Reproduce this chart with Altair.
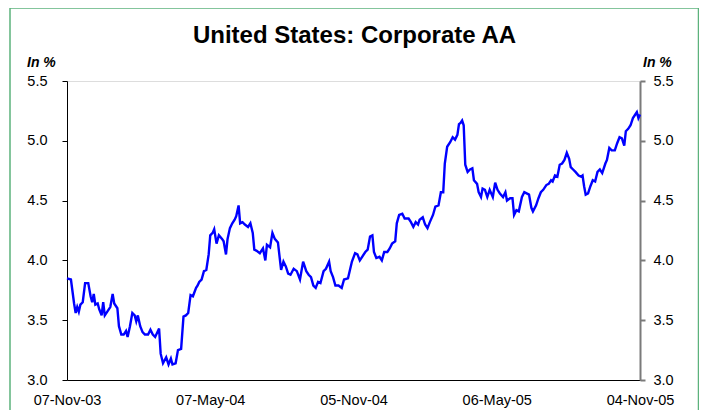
import altair as alt
import pandas as pd

TITLE = "United States: Corporate AA"
UNIT = "In %"

dates = [
    "2003-11-07", "2003-11-12", "2003-11-16", "2003-11-18", "2003-11-20", "2003-11-22",
    "2003-11-24", "2003-11-27", "2003-11-30", "2003-12-04", "2003-12-07", "2003-12-09",
    "2003-12-11", "2003-12-13", "2003-12-16", "2003-12-18", "2003-12-21", "2003-12-23",
    "2003-12-25", "2003-12-28", "2004-01-01", "2004-01-04", "2004-01-06", "2004-01-10",
    "2004-01-12", "2004-01-15", "2004-01-18", "2004-01-21", "2004-01-23", "2004-01-26",
    "2004-01-29", "2004-02-01", "2004-02-03", "2004-02-05", "2004-02-08", "2004-02-11",
    "2004-02-14", "2004-02-18", "2004-02-21", "2004-02-24", "2004-02-27", "2004-03-03",
    "2004-03-05", "2004-03-08", "2004-03-12", "2004-03-15", "2004-03-18", "2004-03-20",
    "2004-03-24", "2004-03-27", "2004-03-31", "2004-04-03", "2004-04-06", "2004-04-09",
    "2004-04-12", "2004-04-15", "2004-04-19", "2004-04-21", "2004-04-23", "2004-04-26",
    "2004-04-29", "2004-05-02", "2004-05-05", "2004-05-07", "2004-05-10", "2004-05-12",
    "2004-05-15", "2004-05-18", "2004-05-22", "2004-05-24", "2004-05-27", "2004-05-29",
    "2004-06-01", "2004-06-04", "2004-06-07", "2004-06-09", "2004-06-12", "2004-06-14",
    "2004-06-17", "2004-06-20", "2004-06-24", "2004-06-27", "2004-06-30", "2004-07-02",
    "2004-07-05", "2004-07-09", "2004-07-13", "2004-07-16", "2004-07-18", "2004-07-22",
    "2004-07-25", "2004-07-28", "2004-08-01", "2004-08-05", "2004-08-08", "2004-08-11",
    "2004-08-14", "2004-08-17", "2004-08-21", "2004-08-25", "2004-08-29", "2004-09-02",
    "2004-09-06", "2004-09-09", "2004-09-12", "2004-09-15", "2004-09-18", "2004-09-21",
    "2004-09-24", "2004-09-28", "2004-10-01", "2004-10-05", "2004-10-07", "2004-10-10",
    "2004-10-13", "2004-10-17", "2004-10-21", "2004-10-24", "2004-10-29", "2004-11-03",
    "2004-11-07", "2004-11-10", "2004-11-13", "2004-11-16", "2004-11-20", "2004-11-23",
    "2004-11-26", "2004-11-29", "2004-12-01", "2004-12-04", "2004-12-08", "2004-12-11",
    "2004-12-14", "2004-12-18", "2004-12-21", "2004-12-24", "2004-12-28", "2004-12-30",
    "2005-01-02", "2005-01-06", "2005-01-09", "2005-01-14", "2005-01-17", "2005-01-20",
    "2005-01-23", "2005-01-26", "2005-01-28", "2005-02-01", "2005-02-04", "2005-02-07",
    "2005-02-10", "2005-02-14", "2005-02-17", "2005-02-21", "2005-02-24", "2005-02-27",
    "2005-03-01", "2005-03-04", "2005-03-08", "2005-03-11", "2005-03-14", "2005-03-17",
    "2005-03-19", "2005-03-21", "2005-03-23", "2005-03-25", "2005-03-27", "2005-03-30",
    "2005-04-02", "2005-04-05", "2005-04-07", "2005-04-11", "2005-04-13", "2005-04-16",
    "2005-04-18", "2005-04-21", "2005-04-24", "2005-04-27", "2005-05-01", "2005-05-04",
    "2005-05-07", "2005-05-10", "2005-05-14", "2005-05-17", "2005-05-19", "2005-05-23",
    "2005-05-26", "2005-05-28", "2005-05-31", "2005-06-03", "2005-06-07", "2005-06-10",
    "2005-06-13", "2005-06-16", "2005-06-19", "2005-06-21", "2005-06-25", "2005-06-28",
    "2005-07-01", "2005-07-04", "2005-07-08", "2005-07-11", "2005-07-14", "2005-07-16",
    "2005-07-19", "2005-07-22", "2005-07-25", "2005-07-28", "2005-07-31", "2005-08-03",
    "2005-08-06", "2005-08-08", "2005-08-11", "2005-08-14", "2005-08-18", "2005-08-21",
    "2005-08-23", "2005-08-25", "2005-08-27", "2005-08-30", "2005-09-02", "2005-09-05",
    "2005-09-08", "2005-09-11", "2005-09-14", "2005-09-17", "2005-09-21", "2005-09-23",
    "2005-09-26", "2005-09-29", "2005-10-03", "2005-10-06", "2005-10-09", "2005-10-12",
    "2005-10-15", "2005-10-17", "2005-10-20", "2005-10-23", "2005-10-26", "2005-10-29",
    "2005-10-31", "2005-11-02", "2005-11-04",
]

values = [
    3.85, 3.84, 3.64, 3.56, 3.61, 3.57,
    3.63, 3.65, 3.81, 3.81, 3.70, 3.65,
    3.72, 3.63, 3.64, 3.59, 3.54, 3.65,
    3.54, 3.57, 3.61, 3.72, 3.64, 3.60,
    3.45, 3.38, 3.38, 3.41, 3.36, 3.45,
    3.56, 3.54, 3.49, 3.54, 3.45, 3.40,
    3.38, 3.38, 3.42, 3.38, 3.36, 3.43,
    3.22, 3.14, 3.19, 3.13, 3.18, 3.13,
    3.14, 3.25, 3.26, 3.53, 3.54, 3.56,
    3.71, 3.70, 3.77, 3.79, 3.82, 3.84,
    3.91, 3.92, 4.05, 4.21, 4.23, 4.26,
    4.14, 4.21, 4.18, 4.16, 4.05, 4.18,
    4.27, 4.31, 4.34, 4.37, 4.46, 4.31,
    4.32, 4.30, 4.28, 4.31, 4.23, 4.09,
    4.08, 4.06, 4.10, 4.00, 4.13, 4.11,
    4.23, 4.18, 4.15, 3.92, 3.99, 3.95,
    3.89, 3.88, 3.93, 3.91, 3.84, 3.99,
    3.91, 3.88, 3.86, 3.79, 3.77, 3.82,
    3.81, 3.91, 3.93, 3.99, 3.91, 3.86,
    3.79, 3.79, 3.77, 3.84, 3.85, 3.99,
    4.06, 4.05, 4.00, 4.03, 4.07, 4.09,
    4.20, 4.21, 4.07, 4.02, 4.03, 4.00,
    4.07, 4.07, 4.10, 4.14, 4.16, 4.31,
    4.38, 4.39, 4.35, 4.35, 4.32, 4.28,
    4.32, 4.30, 4.34, 4.36, 4.30, 4.27,
    4.32, 4.38, 4.45, 4.46, 4.57, 4.57,
    4.81, 4.95, 4.99, 5.03, 5.01, 5.05,
    5.14, 5.15, 5.17, 5.13, 4.80, 4.74,
    4.76, 4.77, 4.67, 4.64, 4.57, 4.53,
    4.60, 4.59, 4.53, 4.59, 4.53, 4.65,
    4.59, 4.56, 4.53, 4.57, 4.50, 4.52,
    4.52, 4.38, 4.42, 4.41, 4.53, 4.57,
    4.56, 4.55, 4.44, 4.41, 4.46, 4.52,
    4.57, 4.59, 4.63, 4.64, 4.67, 4.66,
    4.71, 4.70, 4.80, 4.81, 4.84, 4.90,
    4.85, 4.78, 4.76, 4.74, 4.71, 4.70,
    4.71, 4.62, 4.55, 4.56, 4.62, 4.67,
    4.66, 4.74, 4.76, 4.73, 4.81, 4.84,
    4.94, 4.92, 4.92, 4.98, 5.03, 5.02,
    4.96, 5.08, 5.10, 5.13, 5.19, 5.22,
    5.24, 5.19, 5.22,
]

y_ticks = [3.0, 3.5, 4.0, 4.5, 5.0, 5.5]
x_tick_dates = [(2003, 11, 7), (2004, 5, 7), (2004, 11, 5), (2005, 5, 6), (2005, 11, 4)]

df = pd.DataFrame({"date": dates, "value": values})

FONT = "Liberation Sans"
W, H = 573, 299
LBL = 14.5

x_vals = [alt.DateTime(year=y, month=m, date=d, utc=True) for (y, m, d) in x_tick_dates]
x_scale = alt.Scale(type="utc", domain=[x_vals[0], x_vals[-1]])
y_scale = alt.Scale(domain=[3.0, 5.5], nice=False, zero=False)

x_axis = alt.Axis(
    values=x_vals, labelExpr="utcFormat(datum.value, '%d-%b-%y')", title=None, grid=False,
    ticks=False, tickSize=0, domainColor="black", domainWidth=1,
    labelFont=FONT, labelFontSize=LBL, labelColor="black", labelPadding=13,
    labelFlush=False, labelOverlap=False, labelBound=False,
)
y_left = alt.Axis(
    orient="left", values=y_ticks, format=".1f", title=None, grid=False,
    tickSize=5, tickColor="black", domainColor="black", domainWidth=1,
    labelFont=FONT, labelFontSize=LBL, labelColor="black", labelPadding=15,
    labelFlush=False, labelOverlap=False,
)
y_right = alt.Axis(
    orient="right", values=y_ticks, format=".1f", title=None, grid=False,
    tickSize=5, tickColor="#7a7a7a", tickWidth=2, domainColor="#7a7a7a", domainWidth=2,
    labelFont=FONT, labelFontSize=LBL, labelColor="black", labelPadding=8,
    labelFlush=False, labelOverlap=False,
)

base = alt.Chart(df)

line_left = base.mark_line(color="#0000ff", strokeWidth=2.4).encode(
    x=alt.X("date:T", scale=x_scale, axis=x_axis),
    y=alt.Y("value:Q", scale=y_scale, axis=y_left),
)
line_right = base.mark_line(opacity=0).encode(
    x=alt.X("date:T", scale=x_scale, axis=x_axis),
    y=alt.Y("value:Q", scale=y_scale, axis=y_right),
)

one = alt.Data(values=[{"a": 1}])
border = alt.Chart(one).mark_rect(
    filled=False, stroke="#5cb27c", strokeWidth=1.5, clip=False
).encode(
    x=alt.value(-57), x2=alt.value(631.5), y=alt.value(-73), y2=alt.value(345)
)

title_mark = alt.Chart(one).mark_text(
    text=TITLE, font=FONT, fontSize=24, fontWeight="bold", color="black",
    align="center", baseline="alphabetic",
).encode(x=alt.value(W / 2 + 1), y=alt.value(-38))

unit_left = alt.Chart(one).mark_text(
    text=UNIT, font=FONT, fontSize=14, fontWeight="bold", fontStyle="italic",
    align="left", baseline="alphabetic", color="black",
).encode(x=alt.value(-40), y=alt.value(-14))
unit_right = alt.Chart(one).mark_text(
    text=UNIT, font=FONT, fontSize=14, fontWeight="bold", fontStyle="italic",
    align="left", baseline="alphabetic", color="black",
).encode(x=alt.value(W + 3), y=alt.value(-14))

chart = alt.layer(
    border, line_left, line_right, title_mark, unit_left, unit_right
).resolve_scale(
    y="independent"
).properties(
    width=W, height=H,
    autosize=alt.AutoSizeParams(type="none"),
    padding={"left": 59, "top": 73, "right": 59, "bottom": 30},
).configure_view(
    stroke="#c0c0c0", strokeWidth=1
).configure(background="white")

chart.save("out.html", embed_options={"renderer": "svg", "actions": False})
